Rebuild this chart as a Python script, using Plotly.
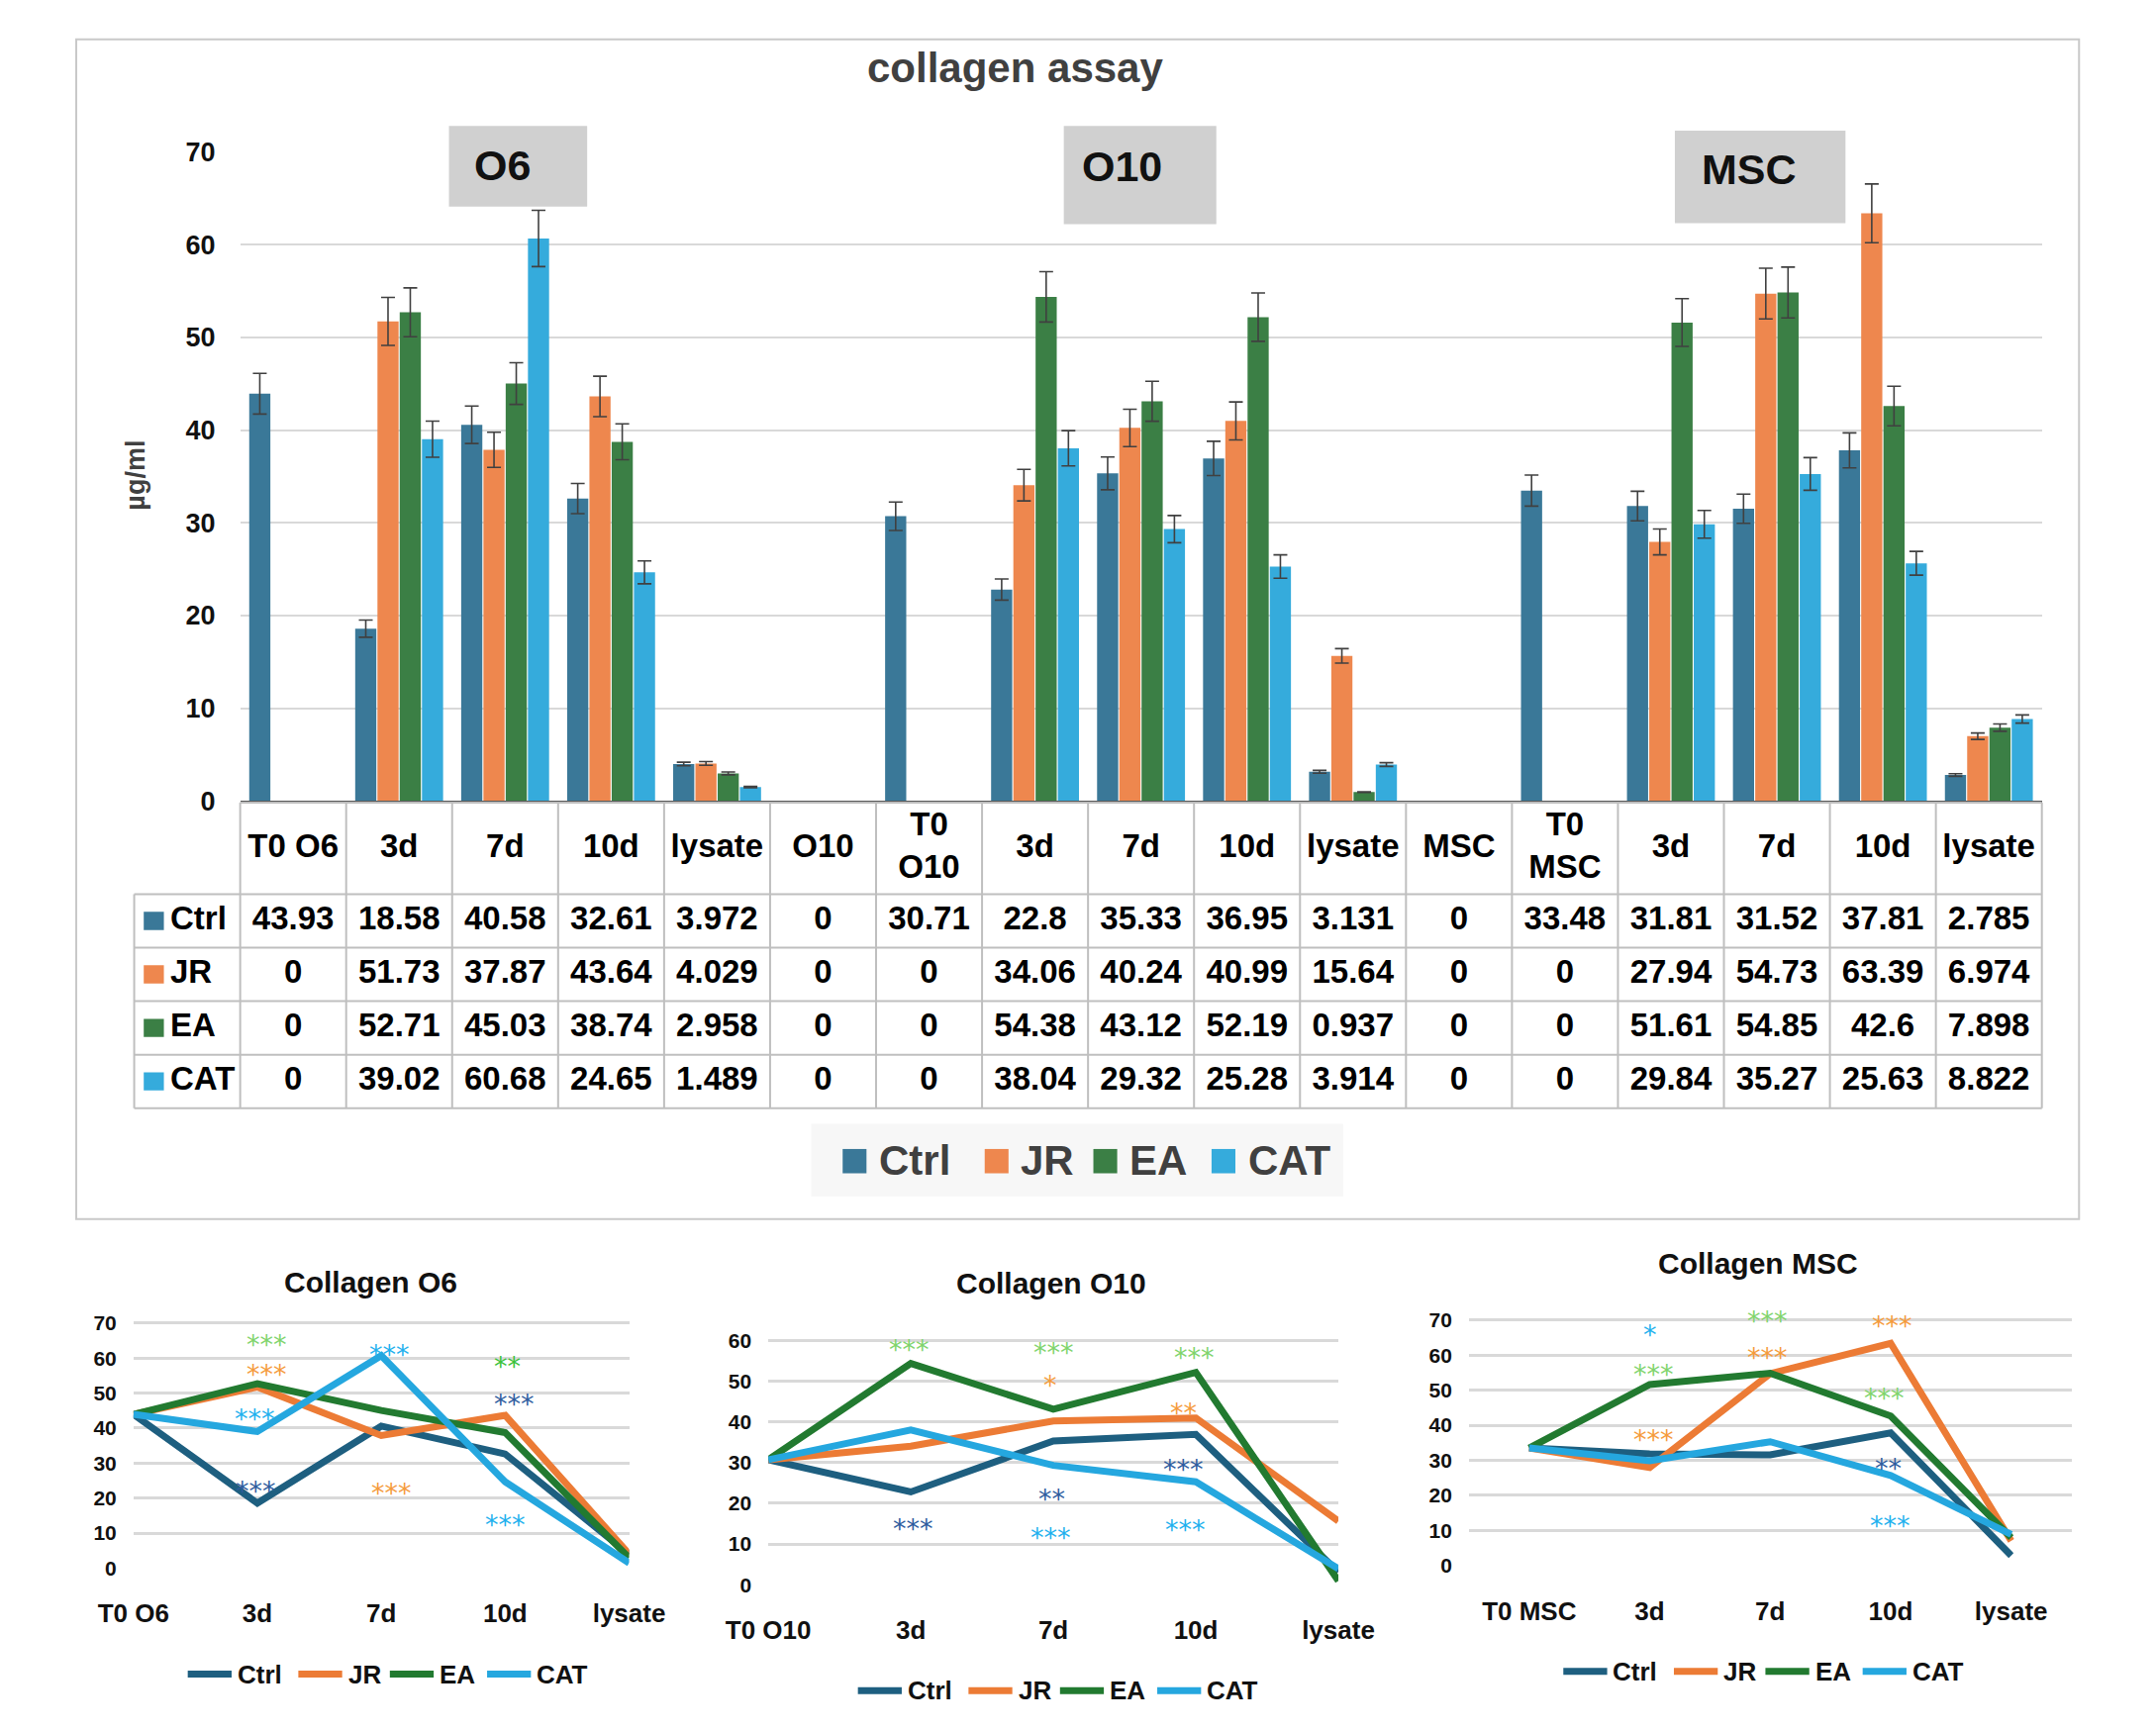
import plotly.graph_objects as go

# ---- data ----
categories = ["T0 O6", "3d", "7d", "10d", "lysate", "O10", "T0<br>O10", "3d", "7d", "10d", "lysate",
              "MSC", "T0<br>MSC", "3d", "7d", "10d", "lysate"]
series_names = ["Ctrl", "JR", "EA", "CAT"]
ctrl = [43.93, 18.58, 40.58, 32.61, 3.972, 0, 30.71, 22.8, 35.33, 36.95, 3.131, 0, 33.48, 31.81, 31.52, 37.81, 2.785]
jr = [0, 51.73, 37.87, 43.64, 4.029, 0, 0, 34.06, 40.24, 40.99, 15.64, 0, 0, 27.94, 54.73, 63.39, 6.974]
ea = [0, 52.71, 45.03, 38.74, 2.958, 0, 0, 54.38, 43.12, 52.19, 0.937, 0, 0, 51.61, 54.85, 42.6, 7.898]
cat = [0, 39.02, 60.68, 24.65, 1.489, 0, 0, 38.04, 29.32, 25.28, 3.914, 0, 0, 29.84, 35.27, 25.63, 8.822]
error_pct = 5  # percentage error bars, as in the source sheet

groups = ["O6", "O10", "MSC"]
group_t0 = [0, 6, 12]          # column of each group's T0 value
line_titles = ["Collagen O6", "Collagen O10", "Collagen MSC"]
line_ticks = [["T0 O6", "3d", "7d", "10d", "lysate"],
              ["T0 O10", "3d", "7d", "10d", "lysate"],
              ["T0 MSC", "3d", "7d", "10d", "lysate"]]

# significance marks: (x category, y value, text, colour key)
stars_o6 = [(1.08, 66.0, "***", "lg"), (1.08, 57.8, "***", "or"), (0.98, 44.8, "***", "cy"),
            (0.99, 24.4, "***", "db"), (2.07, 63.3, "***", "cy"), (2.08, 23.6, "***", "or"),
            (3.02, 60.0, "**", "bg"), (3.07, 49.1, "***", "db"), (3.0, 14.6, "***", "cy")]
stars_o10 = [(0.99, 59.7, "***", "lg"), (2.0, 59.0, "***", "lg"), (1.98, 50.9, "*", "or"),
             (2.99, 57.9, "***", "lg"), (2.91, 44.2, "**", "or"), (2.91, 30.4, "***", "db"),
             (1.99, 23.1, "**", "db"), (1.02, 15.8, "***", "db"), (1.98, 13.5, "***", "cy"),
             (2.93, 15.5, "***", "cy")]
stars_msc = [(1.0, 68.1, "*", "cy"), (1.98, 72.0, "***", "lg"), (3.01, 70.6, "***", "or"),
             (1.03, 56.8, "***", "lg"), (1.98, 61.5, "***", "or"), (1.03, 38.2, "***", "or"),
             (2.95, 50.0, "***", "lg"), (2.98, 29.9, "**", "db"), (3.0, 13.6, "***", "cy")]

# ---- styling ----
bar_colors = ["#3a7898", "#ee874e", "#3b7f45", "#35abdc"]
line_colors = ["#1e5f80", "#ec7b35", "#227a30", "#25a7df"]
star_colors = {"lg": "#80d46c", "bg": "#3cc23c", "or": "#f59b3c", "db": "#2e5c9e", "cy": "#1fb1ee"}
FONT = "Liberation Sans, Arial, sans-serif"
STAR_FONT = "DejaVu Sans, sans-serif"

W, H, OFF = 2162, 1732, 8   # page has 8px body margin


def fx(p):
    return (p - OFF) / W


def fy(p):
    return 1 - (p - OFF) / H


def label(text, x, y, size, color="#111111", xanchor="center", **kw):
    return dict(text=text, x=fx(x), y=fy(y), xref="paper", yref="paper", xanchor=xanchor,
                yanchor="middle", showarrow=False,
                font=dict(family=FONT, size=size, color=color, weight="bold"), **kw)


fig = go.Figure()
shapes = []
annots = []

# ---- main bar chart ----
x0m, x1m = 207, 2097
colw = (x1m - x0m) / 17
xs = list(range(len(categories)))
for name, vals, col in zip(series_names, [ctrl, jr, ea, cat], bar_colors):
    # empty cells are left out of the bars (Excel draws nothing there)
    fig.add_bar(x=xs, y=[v if v else None for v in vals], name=name,
                marker=dict(color=col, line=dict(width=0)),
                error_y=dict(type="percent", value=error_pct, color="#404040", thickness=1.6, width=7),
                xaxis="x", yaxis="y", showlegend=False)

layout = dict(
    xaxis=dict(domain=[fx(x0m), fx(x1m)], range=[-0.5, 16.5], showticklabels=False, showgrid=False,
               zeroline=False, showline=True, linecolor="#595959", linewidth=3, ticks="", anchor="y"),
    yaxis=dict(domain=[fy(808), fy(141)], range=[0, 70], dtick=10, showgrid=True, gridcolor="#d9d9d9",
               gridwidth=2, zeroline=False, showline=False, ticks="", ticklabelstandoff=24,
               tickfont=dict(family=FONT, size=27, color="#111111", weight="bold"), anchor="x"),
)

# ---- data table under the bars ----
pad = 0.06
rowh = (1124 - 904) / 4
hdr = (904 - 810) / rowh
layout["xaxis2"] = dict(domain=[fx(x0m - (1 + pad) * colw), fx(x1m + pad * colw)],
                        range=[-1.5 - pad, 16.5 + pad], visible=False, anchor="y2")
layout["yaxis2"] = dict(domain=[fy(1124 + pad * rowh), fy(810 - pad * rowh)],
                        range=[-4 - pad, hdr + pad], visible=False, anchor="x2")

tfont = dict(family=FONT, size=33, color="#000000", weight="bold")
fig.add_scatter(x=xs, y=[hdr / 2] * len(xs), text=categories, mode="text", textfont=tfont,
                xaxis="x2", yaxis="y2", showlegend=False, hoverinfo="skip", cliponaxis=False)
for r, (name, vals, col) in enumerate(zip(series_names, [ctrl, jr, ea, cat], bar_colors)):
    yc = -(r + 0.5)
    fig.add_scatter(x=xs, y=[yc] * len(xs), text=[format(v, "g") for v in vals], mode="text",
                    textfont=tfont, xaxis="x2", yaxis="y2", showlegend=False, hoverinfo="skip",
                    cliponaxis=False)
    fig.add_scatter(x=[-1.16], y=[yc], text=[name], mode="text", textposition="middle right",
                    textfont=tfont, xaxis="x2", yaxis="y2", showlegend=False, hoverinfo="skip",
                    cliponaxis=False)
    shapes.append(dict(type="rect", xref="x2", yref="y2", x0=-1.41, x1=-1.22, y0=yc - 0.17, y1=yc + 0.17,
                       fillcolor=col, line=dict(width=0)))

grid_line = dict(color="#bfbfbf", width=2)
for k in range(18):
    xv = k - 0.5
    shapes.append(dict(type="line", xref="x2", yref="y2", x0=xv, x1=xv, y0=-4, y1=hdr, line=grid_line))
shapes.append(dict(type="line", xref="x2", yref="y2", x0=-1.5, x1=-1.5, y0=-4, y1=0, line=grid_line))
shapes.append(dict(type="line", xref="x2", yref="y2", x0=-0.5, x1=16.5, y0=hdr, y1=hdr, line=grid_line))
for r in range(5):
    shapes.append(dict(type="line", xref="x2", yref="y2", x0=-1.5, x1=16.5, y0=-r, y1=-r, line=grid_line))

# ---- titles, group boxes, main legend ----
annots.append(label("collagen assay", 1020, 54, 42, color="#404040"))
annots.append(label("µg/ml", 97, 473, 27, color="#404040", textangle=-90))

boxes = [(426, 114, 571, 197, 450, 155), (1071, 114, 1231, 215, 1088, 156), (1712, 119, 1891, 214, 1738, 159)]
for g, (bx0, by0, bx1, by1, tx, ty) in zip(groups, boxes):
    shapes.append(dict(type="rect", xref="paper", yref="paper", x0=fx(bx0), x1=fx(bx1), y0=fy(by1), y1=fy(by0),
                       fillcolor="#d0d0d0", line=dict(width=0), layer="above"))
    annots.append(label(g, tx, ty, 43, xanchor="left"))

shapes.append(dict(type="rect", xref="paper", yref="paper", x0=fx(806), x1=fx(1364), y0=fy(1215), y1=fy(1140),
                   fillcolor="#f7f7f7", line=dict(width=0), layer="below"))
leg_sq = [839, 988, 1102, 1226]
for name, col, sx in zip(series_names, bar_colors, leg_sq):
    shapes.append(dict(type="rect", xref="paper", yref="paper", x0=fx(sx), x1=fx(sx + 25),
                       y0=fy(1191), y1=fy(1166), fillcolor=col, line=dict(width=0)))
    annots.append(label(name, sx + 36, 1178, 42, color="#404040", xanchor="left"))

# outer frame of the bar chart
shapes.append(dict(type="rect", xref="paper", yref="paper", x0=fx(35), x1=fx(2136), y0=fy(1238), y1=fy(25),
                   line=dict(color="#c9c9c9", width=2), layer="below"))

# ---- three line charts ----
charts = [
    dict(x0=95, x1=615, rng=(0, 4), y0=1597, ytop=1345, topv=70, tx=344, ty=1303, lx=152, ly=1706, stars=stars_o6),
    dict(x0=761, x1=1359, rng=(0, 4), y0=1614, ytop=1363, topv=60, tx=1058, ty=1304, lx=855, ly=1723, stars=stars_o10),
    dict(x0=1496, x1=2128, rng=(-0.5, 4.5), y0=1594, ytop=1342, topv=70, tx=1799, ty=1284, lx=1595, ly=1703, stars=stars_msc),
]
leg_offs = [0, 116, 212, 314]
for i, (c, t0) in enumerate(zip(charts, group_t0)):
    n = i + 3
    xa, ya = f"x{n}", f"y{n}"
    ppu = (c["y0"] - c["ytop"]) / c["topv"]
    ymax = c["topv"] + 8
    layout[f"xaxis{n}"] = dict(domain=[fx(c["x0"]), fx(c["x1"])], range=list(c["rng"]), tickvals=list(range(5)),
                               ticktext=line_ticks[i], showgrid=False, zeroline=False, showline=False, ticks="",
                               ticklabelstandoff=28, anchor=ya,
                               tickfont=dict(family=FONT, size=26, color="#111111", weight="bold"))
    layout[f"yaxis{n}"] = dict(domain=[fy(c["y0"]), fy(c["y0"] - ymax * ppu)], range=[0, ymax],
                               tickvals=list(range(0, c["topv"] + 1, 10)), showgrid=True, gridcolor="#d9d9d9",
                               gridwidth=3, zeroline=False, showline=False, ticks="", ticklabelstandoff=16,
                               anchor=xa, tickfont=dict(family=FONT, size=21, color="#111111", weight="bold"))
    for name, vals, col in zip(series_names, [ctrl, jr, ea, cat], line_colors):
        yv = [ctrl[t0]] + vals[t0 + 1:t0 + 5]
        fig.add_scatter(x=list(range(5)), y=yv, mode="lines", name=name, line=dict(color=col, width=7),
                        xaxis=xa, yaxis=ya, showlegend=False, cliponaxis=False)
    for sx, sy, txt, ck in c["stars"]:
        annots.append(dict(text=txt, x=sx, y=sy, xref=xa, yref=ya, showarrow=False, yshift=-8,
                           xanchor="center", yanchor="middle",
                           font=dict(family=STAR_FONT, size=27, color=star_colors[ck])))
    annots.append(label(line_titles[i], c["tx"], c["ty"], 30))
    for name, col, off in zip(series_names, line_colors, leg_offs):
        lx = c["lx"] + off
        shapes.append(dict(type="line", xref="paper", yref="paper", x0=fx(lx), x1=fx(lx + 46),
                           y0=fy(c["ly"]), y1=fy(c["ly"]), line=dict(color=col, width=7)))
        annots.append(label(name, lx + 50, c["ly"], 26, xanchor="left"))

fig.update_layout(**layout)
fig.update_layout(width=W, height=H, margin=dict(l=0, r=0, t=0, b=0), paper_bgcolor="white",
                  plot_bgcolor="rgba(0,0,0,0)", barmode="group", bargap=0.16, bargroupgap=0.05,
                  shapes=shapes, annotations=annots, showlegend=False)
fig.write_html("out.html")
